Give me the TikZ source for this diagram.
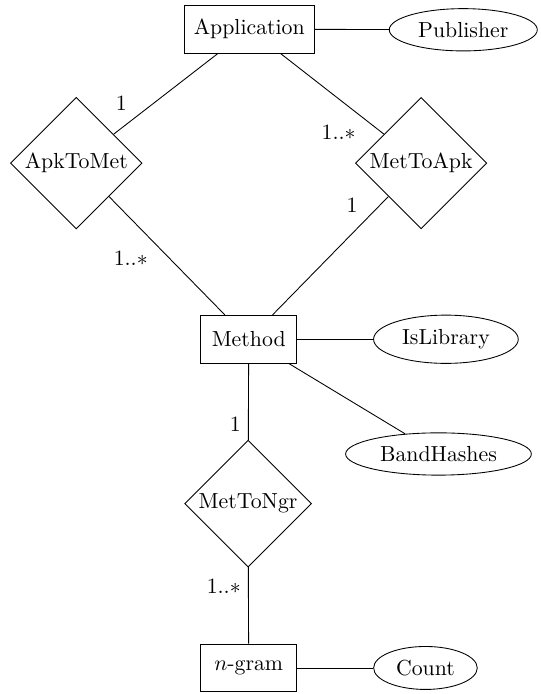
\documentclass[tikz,border=0pt]{standalone}
\usetikzlibrary{positioning, shapes.geometric}

\begin{document}
\begin{tikzpicture}[
    entity/.style={rectangle, draw, minimum width=1.55cm, minimum height=0.77cm, inner xsep=4.5pt},
    relation/.style={diamond, draw, aspect=1, inner sep=1pt},
    attribute/.style={ellipse, draw},
    card/.style={inner sep=3.33pt}
]
\useasboundingbox (0,0) rectangle (8.71,-11.19);

% Entities
\node[entity] (app) at (4.02, -0.47) {Application};
\node[entity] (method) at (4.01, -5.47) {Method};
\node[entity] (ngram) at (4.01, -10.77) {$n$-gram};

% Relationships
\node[relation] (apk2met) at (1.23, -2.63) {ApkToMet};
\node[relation] (met2apk) at (6.79, -2.63) {MetToApk};
\node[relation] (met2ngr) at (4.00, -8.12) {MetToNgr};

% Attributes
\node[attribute] (pub) at (7.47, -0.48) {Publisher};
\node[attribute] (islib) at (7.19, -5.47) {IsLibrary};
\node[attribute] (bandhash) at (7.07, -7.32) {BandHashes};
\node[attribute] (count) at (6.86, -10.77) {Count};

% Relationship links with cardinalities
\draw (app) -- node[card, pos=0.8, above left] {1} (apk2met);
\draw (app) -- node[card, pos=0.8, below left] {$1..*$} (met2apk);
\draw (apk2met) -- node[card, pos=0.4, below left] {$1..*$} (method);
\draw (met2apk) -- node[card, pos=0.2, above left] {1} (method);
\draw (method) -- node[card, pos=0.8, left] {1} (met2ngr);
\draw (met2ngr) -- node[card, pos=0.25, left] {$1..*$} (ngram);

% Attribute links
\draw (app) -- (pub);
\draw (method) -- (islib);
\draw (method) -- (bandhash);
\draw (ngram) -- (count);

\end{tikzpicture}
\end{document}
